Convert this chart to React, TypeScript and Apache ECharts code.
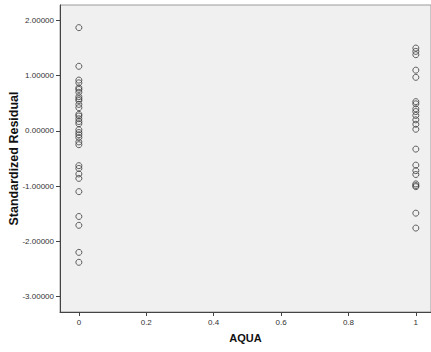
import React, { useEffect, useRef } from "react";
import * as echarts from "echarts";

const xTicks = [0, 0.2, 0.4, 0.6, 0.8, 1];
const yTicks = [-3, -2, -1, 0, 1, 2];

const groupZeroX = 0;
const groupZeroResiduals = [
  1.87, 1.17, 0.92, 0.87, 0.78, 0.75, 0.7, 0.62, 0.58, 0.55, 0.48, 0.42, 0.3,
  0.27, 0.22, 0.17, 0.13, 0.02, -0.03, -0.07, -0.12, -0.2, -0.25, -0.63, -0.68,
  -0.78, -0.86, -1.1, -1.55, -1.71, -2.2, -2.38,
];

const groupOneX = 1;
const groupOneResiduals = [
  1.5, 1.44, 1.38, 1.1, 0.97, 0.53, 0.49, 0.4, 0.35, 0.28, 0.2, 0.12, 0.03,
  -0.33, -0.62, -0.72, -0.79, -0.96, -0.99, -1.01, -1.49, -1.76,
];

export default function App() {
  const ref = useRef<HTMLDivElement>(null);
  useEffect(() => {
    document.body.style.margin = "0";
    const chart = echarts.init(ref.current!, null, { renderer: "svg" });
    const data = [
      ...groupZeroResiduals.map((v) => [groupZeroX, v]),
      ...groupOneResiduals.map((v) => [groupOneX, v]),
    ];
    const font = "Liberation Sans, Arial, sans-serif";
    chart.setOption({
      animation: false,
      backgroundColor: "#ffffff",
      grid: {
        left: 60,
        top: 5,
        right: 0,
        bottom: 40,
        containLabel: false,
        outerBoundsMode: "none",
        show: true,
        backgroundColor: "#f0f0f0",
        borderColor: "#9a9a9a",
        borderWidth: 1,
      },
      xAxis: {
        type: "value",
        min: -0.056,
        max: 1.045,
        name: "AQUA",
        nameLocation: "middle",
        nameGap: 20,
        nameMoveOverlap: false,
        nameTextStyle: { fontFamily: font, fontSize: 11, fontWeight: "bold", color: "#111" },
        splitLine: { show: false },
        axisLine: { show: true, onZero: false, lineStyle: { color: "#444", width: 1 } },
        axisTick: { show: true, length: 4, customValues: xTicks, lineStyle: { color: "#444" } },
        axisLabel: {
          customValues: xTicks,
          margin: 6,
          fontFamily: font,
          fontSize: 8,
          color: "#333",
          formatter: (v: number) => String(Number(v.toFixed(1))),
        },
      },
      yAxis: {
        type: "value",
        min: -3.28,
        max: 2.28,
        name: "Standardized Residual",
        nameLocation: "middle",
        nameRotate: 90,
        nameGap: 40,
        nameMoveOverlap: false,
        nameTextStyle: { fontFamily: font, fontSize: 12.5, fontWeight: "bold", color: "#111" },
        splitLine: { show: false },
        axisLine: { show: true, onZero: false, lineStyle: { color: "#444", width: 1 } },
        axisTick: { show: true, length: 4, customValues: yTicks, lineStyle: { color: "#444" } },
        axisLabel: {
          customValues: yTicks,
          margin: 6,
          fontFamily: font,
          fontSize: 8,
          color: "#333",
          formatter: (v: number) => v.toFixed(5),
        },
      },
      series: [
        {
          type: "scatter",
          data,
          symbol: "circle",
          symbolSize: 6,
          itemStyle: { color: "rgba(0,0,0,0)", borderColor: "#3a3a3a", borderWidth: 1 },
          emphasis: { disabled: true },
          clip: false,
        },
      ],
    });
    return () => chart.dispose();
  }, []);
  return <div ref={ref} style={{ width: 431, height: 352 }} />;
}
